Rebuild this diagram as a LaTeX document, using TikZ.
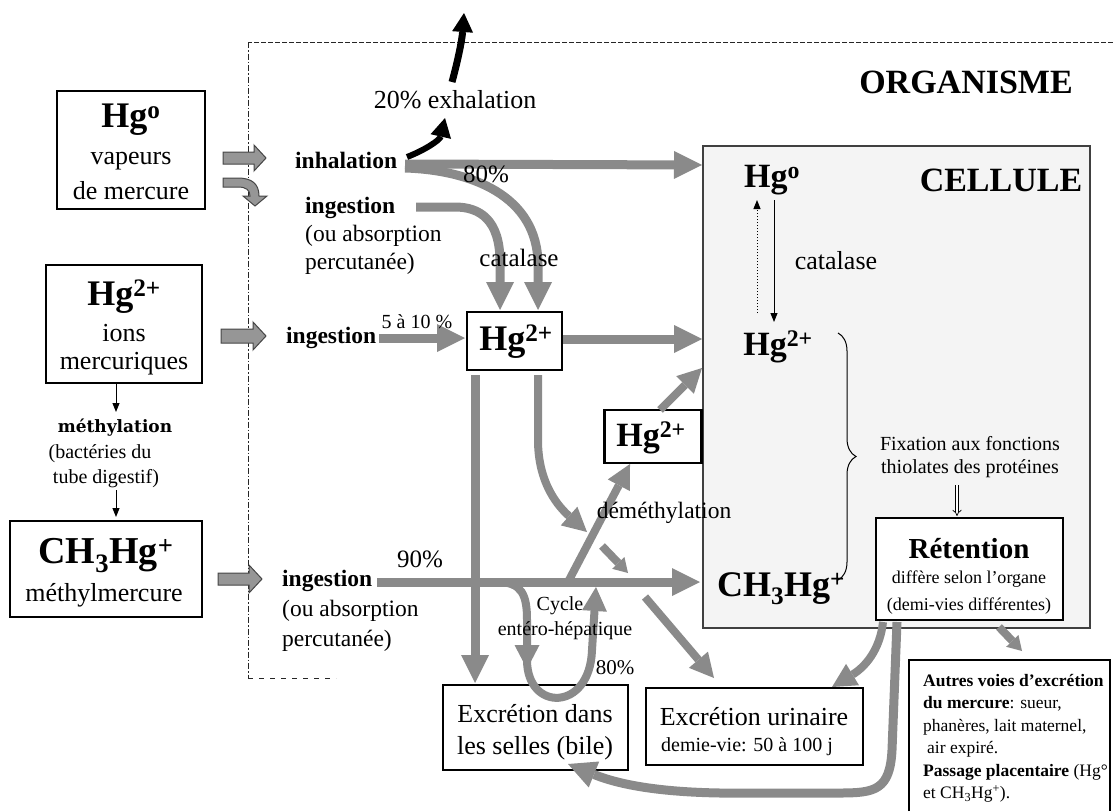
\documentclass[tikz,border=0pt]{standalone}
\usepackage{fontspec}
\setmainfont{Liberation Serif}
\newfontfamily\methfont{DejaVu Serif}
\usetikzlibrary{arrows.meta,decorations.pathreplacing}
\definecolor{flowgray}{RGB}{138,138,138}
\definecolor{cellfill}{RGB}{244,244,244}
\definecolor{blockgray}{RGB}{150,150,150}
\definecolor{blockedge}{RGB}{70,70,70}
\newcommand\myfs[2]{\fontsize{#1pt}{#2pt}\selectfont}
\begin{document}
\begin{tikzpicture}[x=1pt,y=-1pt,
  box/.style={draw=black, line width=2.5pt, fill=white, inner sep=0pt},
  txt/.style={inner sep=0pt},
  flow/.style={draw=flowgray, line width=9pt, -{Triangle[length=28pt,width=28pt,line width=0pt]}},
  flowsm/.style={draw=flowgray, line width=8pt, -{Triangle[length=24pt,width=25pt,line width=0pt]}},
  flowxs/.style={draw=flowgray, line width=8pt, -{Triangle[length=14pt,width=17pt,line width=0pt]}},
  blk/.style={draw=black, line width=7pt, -{Triangle[length=19pt,width=21pt,line width=0pt]}},
  thinarr/.style={draw=black, line width=1pt, -{Triangle[length=9pt,width=7pt]}},
  blockarrow/.style={fill=blockgray, draw=blockedge, line width=1pt}]
\useasboundingbox (0,0) rectangle (1113,811);

% ---------- cellule ----------
\node[draw=black!75, line width=1.3pt, fill=cellfill, minimum width=387pt, minimum height=482pt, inner sep=0pt] (cell) at (896.5,387) {};

% ---------- organism boundary ----------
\coordinate (orgTR) at (1113,42);
\coordinate (orgTL) at (248,42);
\coordinate (orgBL) at (248,678);
\coordinate (orgBR) at (336,678);
\draw[black!85, line width=1pt, dash pattern=on 5pt off 2pt] (orgTR) -- (orgTL);
\draw[black!85, line width=1pt, dash pattern=on 6pt off 2pt on 1.5pt off 2pt] (orgTL) -- (orgBL);
\draw[black!85, line width=1pt, dash pattern=on 5pt off 6pt] (orgBL) -- (orgBR);

% ---------- left boxes ----------
\node[box, minimum width=148pt, minimum height=118pt] (hg0box) at (131,150) {};
\node[box, minimum width=156pt, minimum height=118pt] (hg2box) at (124,324) {};
\node[box, minimum width=192pt, minimum height=96pt] (mebox) at (106,569) {};

% ---------- other boxes ----------
\node[box, minimum width=95pt, minimum height=58pt] (hgc) at (514.5,341) {};
\node[box, minimum width=97pt, minimum height=53pt] (hgs) at (653,436.5) {};
\node[box, minimum width=185pt, minimum height=85pt] (selles) at (535.5,727.5) {};
\node[box, minimum width=217pt, minimum height=77pt] (urin) at (754.5,726.5) {};
\node[box, minimum width=187pt, minimum height=102pt] (ret) at (969.5,569) {};
\coordinate (autBL) at (909,811);
\coordinate (autTL) at (909,660);
\coordinate (autTR) at (1110,660);
\coordinate (autBR) at (1110,811);
\draw[black, line width=2.5pt] (autBL) -- (autTL) -- (autTR) -- (autBR);

% ---------- block arrows ----------
\draw[blockarrow] (223,152)--(254,152)--(254,145)--(266,158)--(254,171)--(254,164)--(223,164)--cycle;
\draw[blockarrow] (223,178) -- (238,178) .. controls (252,178) and (259,184) .. (259,196) -- (267,196) -- (255,206) -- (243,196) -- (250,196) .. controls (250,190) and (246,187) .. (238,187) -- (223,187) -- cycle;
\draw[blockarrow] (221,329)--(253,329)--(253,322)--(266,336)--(253,350)--(253,343)--(221,343)--cycle;
\draw[blockarrow] (218,573)--(249,573)--(249,565)--(262,579)--(249,593)--(249,585)--(218,585)--cycle;

% ---------- coordinates for flows ----------
\coordinate (inhS) at (405,164);
\coordinate (inhS2) at (405,168);
\coordinate (cellIn1) at (702,165);
\coordinate (hgcTopR) at (538,310);
\coordinate (ingAS) at (416,207);
\coordinate (hgcTopL) at (500,310);
\coordinate (ingBS) at (379,338);
\coordinate (hgcL) at (465,338);
\coordinate (hgcR) at (563,339);
\coordinate (cellIn2) at (702,339);
\coordinate (hgcB1) at (475,375);
\coordinate (sellesT) at (475,683);
\coordinate (hgcB2) at (538,375);
\coordinate (midA) at (587,532);
\coordinate (midB1) at (602,546);
\coordinate (midB2) at (628,573);
\coordinate (midC1) at (645,597);
\coordinate (urinT) at (714,678);
\coordinate (ingCS) at (377,582);
\coordinate (cellIn3) at (700,582);
\coordinate (demS) at (568,582);
\coordinate (hgsB) at (630,464);
\coordinate (hgsT) at (660,410);
\coordinate (cellIn4) at (702,368);
\coordinate (cycS) at (497,582);
\coordinate (cycA) at (527,669);
\coordinate (cycB) at (527,660);
\coordinate (cycE) at (596,587);
\coordinate (retB1) at (883,622);
\coordinate (urinTR) at (832,687);
\coordinate (retB2) at (897,622);
\coordinate (sellesBR) at (568,764);
\coordinate (retB3) at (999,627);
\coordinate (autT) at (1022,651);
\coordinate (exhS) at (452,82);
\coordinate (exhE) at (464,13);
\coordinate (exhS2) at (407,157);
\coordinate (exhE2) at (445,118);

% ---------- gray flows ----------
\draw[flow] (inhS) -- (cellIn1);
\draw[flow] (inhS2) .. controls (470,170) and (538,195) .. (538,265) -- (hgcTopR);
\draw[flow] (ingAS) -- (455,207) .. controls (480,207) and (500,220) .. (500,262) -- (hgcTopL);
\draw[flow] (ingBS) -- (hgcL);
\draw[flow] (hgcR) -- (cellIn2);
\draw[flow] (hgcB1) -- (sellesT);
\draw[flowsm] (hgcB2) -- (538,440) .. controls (538,485) and (560,508) .. (midA);
\draw[flowxs] (midB1) -- (midB2);
\draw[flowsm] (midC1) -- (urinT);
\draw[flow] (ingCS) -- (cellIn3);
\draw[flowsm] (demS) -- (hgsB);
\draw[flowsm] (hgsT) -- (cellIn4);
\draw[flowsm] (cycS) .. controls (522,582) and (527,595) .. (527,620) -- (cycA);
\draw[flowsm] (cycB) .. controls (527,712) and (590,712) .. (592,650) -- (cycE);
\draw[flowsm] (retB1) .. controls (880,650) and (865,667) .. (urinTR);
\draw[flow] (retB2) -- (892,750) .. controls (890,790) and (875,793) .. (840,793) -- (720,793) .. controls (660,792) and (620,785) .. (sellesBR);
\draw[flowxs] (retB3) -- (autT);

% ---------- black exhalation arrows ----------
\draw[blk] (exhS) .. controls (458,60) and (462,40) .. (exhE);
\draw[blk, line width=6pt] (exhS2) .. controls (425,150) and (440,140) .. (exhE2);

% ---------- thin arrows ----------
\coordinate (meth1) at (116,384);
\coordinate (meth2) at (116,412);
\coordinate (meth3) at (116,490);
\coordinate (meth4) at (116,517);
\draw[thinarr] (meth1) -- (meth2);
\draw[thinarr] (meth3) -- (meth4);
\coordinate (catU1) at (757,313);
\coordinate (catU2) at (757,200);
\coordinate (catD1) at (774,200);
\coordinate (catD2) at (774,322);
\draw[thinarr, dotted] (catU1) -- (catU2);
\draw[thinarr] (catD1) -- (catD2);
\coordinate (br1) at (838,333);
\coordinate (br2) at (838,580);
\draw[black, line width=1pt, decorate, decoration={brace, amplitude=18pt}] (br1) -- (br2);
\coordinate (fx1) at (957,485);
\coordinate (fx2) at (957,516);
\draw[black, line width=0.7pt, double, double distance=2.5pt, -{Implies}] (fx1) -- (fx2);

% ---------- texts ----------
\node[txt, font=\bfseries\myfs{34}{40}] (organisme) at (966,82) {ORGANISME};
\node[txt, font=\bfseries\myfs{36}{40}] (hg0t) at (131,120) {Hg\textsuperscript{o}};
\node[txt, font=\myfs{26}{30}] (hg0a) at (131,161) {vapeurs};
\node[txt, font=\myfs{26}{30}] (hg0b) at (131,191) {de mercure};
\node[txt, font=\bfseries\myfs{36}{40}] (hg2t) at (124,297) {Hg\textsuperscript{2+}};
\node[txt, font=\myfs{26}{30}] (hg2a) at (124,333) {ions};
\node[txt, font=\myfs{26}{30}] (hg2b) at (124,364) {mercuriques};
\node[txt, font=\methfont\bfseries\myfs{17}{20}] (methyl) at (115,428) {méthylation};
\node[txt, font=\myfs{20}{24}] (bact1) at (100,454) {(bactéries du};
\node[txt, font=\myfs{20}{24}] (bact2) at (106,479) {tube digestif)};
\node[txt, font=\bfseries\myfs{38}{42}] (met) at (106,556) {CH\textsubscript{3}Hg\textsuperscript{+}};
\node[txt, font=\myfs{26}{30}] (meta) at (104,595) {méthylmercure};

\node[txt, font=\myfs{26}{30}] (exhal) at (455,100) {20\% exhalation};
\node[txt, font=\bfseries\myfs{23.5}{28}, anchor=west] (inhal) at (295,160) {inhalation};
\node[txt, font=\myfs{25}{28}] (p80a) at (486,174) {80\%};
\node[txt, font=\bfseries\myfs{23.5}{28}, anchor=west] (ingA) at (305,208) {ingestion};
\node[txt, font=\myfs{23.5}{28}, anchor=west] (ingAb) at (305,236) {(ou absorption};
\node[txt, font=\myfs{23.5}{28}, anchor=west] (ingAc) at (305,264) {percutanée)};
\node[txt, font=\myfs{25}{28}] (catal1) at (519,258) {catalase};
\node[txt, font=\bfseries\myfs{23.5}{28}, anchor=west] (ingB) at (286,338) {ingestion};
\node[txt, font=\myfs{20}{24}] (p510) at (417,322) {5 à 10 \%};
\node[txt, font=\bfseries\myfs{36}{40}] (hgct) at (516,342) {Hg\textsuperscript{2+}};
\node[txt, font=\bfseries\myfs{34}{40}] (hgst) at (651,438) {Hg\textsuperscript{2+}};
\node[txt, font=\myfs{23.5}{28}] (demeth) at (664,513) {déméthylation};
\node[txt, font=\myfs{25}{28}] (p90) at (420,559) {90\%};
\node[txt, font=\bfseries\myfs{23.5}{28}, anchor=west] (ingC) at (282,581) {ingestion};
\node[txt, font=\myfs{23.5}{28}, anchor=west] (ingCb) at (282,611) {(ou absorption};
\node[txt, font=\myfs{23.5}{28}, anchor=west] (ingCc) at (282,641) {percutanée)};
\node[txt, font=\myfs{20}{24}] (cyc1) at (560,606) {Cycle};
\node[txt, font=\myfs{20}{24}] (cyc2) at (565,631) {entéro-hépatique};
\node[txt, font=\myfs{21}{24}] (p80b) at (615,668) {80\%};
\node[txt, font=\myfs{26}{30}] (sel1) at (535,714) {Excrétion dans};
\node[txt, font=\myfs{26}{30}] (sel2) at (535,748) {les selles (bile)};
\node[txt, font=\myfs{26}{30}] (uri1) at (754,717) {Excrétion urinaire};
\node[txt, font=\myfs{20}{24}] (uri2) at (747,747) {demie-vie: 50 à 100 j};

\node[txt, font=\bfseries\myfs{34}{40}] (cellhg0) at (772,180) {Hg\textsuperscript{o}};
\node[txt, font=\bfseries\myfs{34}{40}] (cellule) at (1001,180) {CELLULE};
\node[txt, font=\myfs{26}{30}] (catal2) at (836,261) {catalase};
\node[txt, font=\bfseries\myfs{34}{40}] (cellhg2) at (778,347) {Hg\textsuperscript{2+}};
\node[txt, font=\bfseries\myfs{36}{40}] (cellme) at (781,589) {CH\textsubscript{3}Hg\textsuperscript{+}};
\node[txt, font=\myfs{20}{24}] (fix1) at (970,444) {Fixation aux fonctions};
\node[txt, font=\myfs{20}{24}] (fix2) at (970,469) {thiolates des protéines};
\node[txt, font=\bfseries\myfs{29}{32}] (ret1) at (969,549) {Rétention};
\node[txt, font=\myfs{18}{22}] (ret2) at (969,579) {diffère selon l’organe};
\node[txt, font=\myfs{18}{22}] (ret3) at (969,606) {(demi-vies différentes)};

\node[txt, font=\myfs{17.5}{22.5}, anchor=north west, align=left] (autres) at (923,674)
 {\textbf{Autres voies d’excrétion}\\
  \textbf{du mercure}: sueur,\\
  phanères, lait maternel,\\
  \hspace{4pt}air expiré.\\
  \textbf{Passage placentaire} (Hg°\\
  et CH\textsubscript{3}Hg\textsuperscript{+}).};
\end{tikzpicture}
\end{document}
